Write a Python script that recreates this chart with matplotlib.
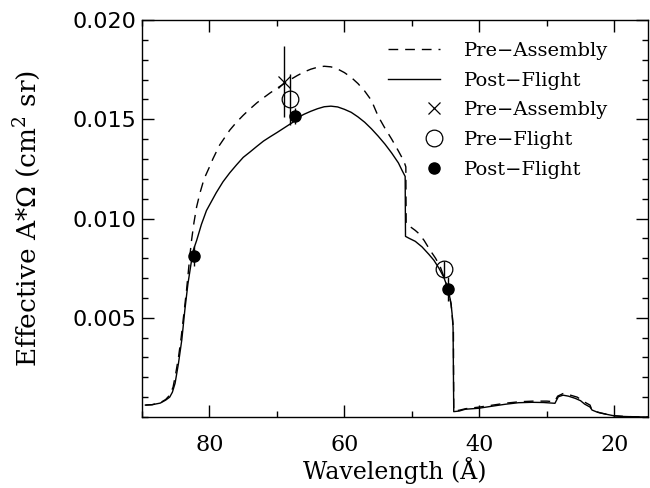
import matplotlib
matplotlib.use('Agg')
import matplotlib.pyplot as plt
from matplotlib.ticker import MultipleLocator, FixedLocator, FormatStrFormatter
from matplotlib.legend_handler import HandlerLine2D

plt.rcParams['font.family'] = 'DejaVu Serif'
plt.rcParams['mathtext.fontset'] = 'dejavuserif'

# effective area * solid angle curves, wavelength in Angstrom
pre_wl = [89.5, 88.5, 87.3, 86.5, 85.9, 85.4, 85.0, 84.6, 84.2, 83.8, 83.4, 83.0,
          82.7, 82.3, 81.9, 81.4, 80.8, 80.0, 79.5, 78.5, 77.5, 77.0, 76.0, 75.0,
          74.0, 73.0, 72.0, 71.0, 70.0, 69.0, 68.0, 67.0, 66.0, 65.0, 64.0, 63.0,
          62.0, 61.0, 60.0, 59.0, 58.0, 57.0, 56.0, 55.0, 54.0, 53.0, 52.0, 51.2,
          50.9, 50.85, 50.3, 49.5, 49.0, 48.2, 47.3, 46.5, 45.8, 45.3, 44.8, 44.5,
          44.2, 44.05, 43.85, 43.8, 43.0, 42.0, 40.0, 38.0, 36.0, 34.0, 32.0, 30.0,
          29.3, 28.8, 28.4, 27.6, 26.5, 25.5, 24.4, 23.6, 23.3, 22.0, 20.0, 18.0,
          15.0]
pre_eff = [0.00060, 0.00062, 0.00072, 0.00088, 0.00110, 0.00150, 0.00220, 0.00300,
           0.00400, 0.00520, 0.00640, 0.00780, 0.00880, 0.00980, 0.01060, 0.01130,
           0.01200, 0.01260, 0.01300, 0.01370, 0.01420, 0.01445, 0.01485, 0.01520,
           0.01552, 0.01582, 0.01608, 0.01633, 0.01656, 0.01678, 0.01700, 0.01720,
           0.01738, 0.01752, 0.01762, 0.01767, 0.01764, 0.01753, 0.01735, 0.01711,
           0.01680, 0.01642, 0.01595, 0.01515, 0.01455, 0.01400, 0.01340, 0.01290,
           0.01260, 0.00970, 0.00960, 0.00940, 0.00925, 0.00890, 0.00840, 0.00800,
           0.00757, 0.00710, 0.00660, 0.00620, 0.00570, 0.00520, 0.00450, 0.00030,
           0.00034, 0.00042, 0.00050, 0.00060, 0.00070, 0.00077, 0.00080, 0.00080,
           0.00078, 0.00080, 0.00105, 0.00118, 0.00110, 0.00100, 0.00075, 0.00060,
           0.00033, 0.00020, 0.00006, 0.00002, 0.00000]

post_wl = [89.5, 88.5, 87.3, 86.5, 85.9, 85.5, 85.1, 84.6, 84.1, 83.65, 83.2, 82.7,
           82.4, 81.9, 81.2, 80.45, 80.0, 79.0, 78.0, 77.0, 76.0, 75.0, 74.0, 73.0,
           72.0, 71.0, 70.0, 69.0, 68.0, 67.4, 66.7, 66.0, 65.0, 64.0, 63.0, 62.0,
           61.0, 60.0, 59.0, 58.0, 57.0, 56.0, 55.0, 54.0, 53.0, 52.0, 51.5, 51.0,
           50.95, 50.4, 49.5, 48.5, 47.5, 46.75, 46.0, 45.3, 44.8, 44.5, 44.2, 44.05,
           43.9, 43.8, 43.0, 42.1, 40.1, 38.0, 36.2, 34.2, 32.2, 30.5, 28.8, 28.3,
           27.6, 26.8, 25.8, 25.0, 24.4, 23.6, 23.3, 22.5, 21.5, 20.2, 19.0, 17.0,
           15.0]
post_eff = [0.00060, 0.00062, 0.00070, 0.00085, 0.00100, 0.00125, 0.00170, 0.00270,
            0.00390, 0.00540, 0.00670, 0.00780, 0.00840, 0.00890, 0.00970, 0.01040,
            0.01068, 0.01130, 0.01185, 0.01230, 0.01270, 0.01308, 0.01335, 0.01363,
            0.01390, 0.01412, 0.01433, 0.01455, 0.01477, 0.01490, 0.01512, 0.01525,
            0.01540, 0.01553, 0.01563, 0.01566, 0.01562, 0.01550, 0.01535, 0.01512,
            0.01485, 0.01452, 0.01415, 0.01375, 0.01330, 0.01280, 0.01245, 0.01212,
            0.00910, 0.00900, 0.00885, 0.00857, 0.00820, 0.00790, 0.00750, 0.00706,
            0.00660, 0.00623, 0.00570, 0.00522, 0.00450, 0.00027, 0.00030, 0.00039,
            0.00044, 0.00055, 0.00064, 0.00072, 0.00074, 0.00073, 0.00069, 0.00102,
            0.00110, 0.00105, 0.00094, 0.00082, 0.00065, 0.00050, 0.00035, 0.00024,
            0.00016, 0.00007, 0.00003, 0.00001, 0.00000]

# calibration measurements
pa_wl, pa_eff, pa_err = [68.9], [0.0169], [0.0018]
pf_wl, pf_eff, pf_err = [68.05, 45.3], [0.0160, 0.00744], [0.0013, 0.0004]
fl_wl, fl_eff, fl_err = [82.3, 67.4, 44.7], [0.0081, 0.01517, 0.00646], [0.0005, 0.0004, 0.0006]

fig = plt.figure(figsize=(6.5, 4.88), dpi=100)
ax = fig.add_axes([0.2185, 0.1455, 0.7785, 0.8135])

l_pre, = ax.plot(pre_wl, pre_eff, 'k', lw=1.0, dashes=(7, 5), label='Pre\u2212Assembly')
l_post, = ax.plot(post_wl, post_eff, 'k-', lw=1.0, label='Post\u2212Flight')

ax.errorbar(pa_wl, pa_eff, yerr=pa_err, fmt='none', ecolor='k', elinewidth=1.0, capsize=0)
ax.errorbar(pf_wl, pf_eff, yerr=pf_err, fmt='none', ecolor='k', elinewidth=1.0, capsize=0)
ax.errorbar(fl_wl, fl_eff, yerr=fl_err, fmt='none', ecolor='k', elinewidth=1.0, capsize=0)

m_pa, = ax.plot(pa_wl, pa_eff, 'kx', ms=9, mew=0.9, ls='none', label='Pre\u2212Assembly')
m_pf, = ax.plot(pf_wl, pf_eff, 'o', ms=12, mfc='none', mec='k', mew=0.9, ls='none',
                label='Pre\u2212Flight')
m_fl, = ax.plot(fl_wl, fl_eff, 'ko', ms=8, ls='none', label='Post\u2212Flight')

ax.set_xlim(90, 15)
ax.set_ylim(0, 0.020)

ax.xaxis.set_major_locator(MultipleLocator(20))
ax.xaxis.set_minor_locator(MultipleLocator(10))
ax.yaxis.set_major_locator(FixedLocator([0.005, 0.010, 0.015, 0.020]))
ax.yaxis.set_minor_locator(MultipleLocator(0.001))
ax.yaxis.set_major_formatter(FormatStrFormatter('%.3f'))
ax.tick_params(which='both', direction='in', top=True, right=True, width=1.0)
ax.tick_params(which='major', length=8.5)
ax.tick_params(which='minor', length=4.5)
ax.tick_params(axis='x', which='major', pad=12, labelsize=16)
ax.tick_params(axis='y', which='major', pad=4, labelsize=16)
for lab in ax.get_yticklabels():
    lab.set_fontfamily('DejaVu Sans')
for sp in ax.spines.values():
    sp.set_linewidth(1.0)

ax.set_xlabel('Wavelength (\u00c5)', fontsize=17, labelpad=1)
ax.set_ylabel('Effective A*\u03a9 (cm$^2$ sr)', fontsize=19, labelpad=21)


class MarkerRight(HandlerLine2D):
    # put the symbol near the right end of the handle, under the line samples
    def create_artists(self, legend, orig_handle, xdescent, ydescent, width, height,
                       fontsize, trans):
        arts = super().create_artists(legend, orig_handle, xdescent, ydescent, width,
                                      height, fontsize, trans)
        for a in arts:
            yd = a.get_ydata()
            a.set_markevery(None)
            a.set_data([0.87 * width - xdescent], [yd[0]])
        return arts


ax.legend([l_pre, l_post, m_pa, m_pf, m_fl],
          [h.get_label() for h in [l_pre, l_post, m_pa, m_pf, m_fl]],
          handler_map={m_pa: MarkerRight(), m_pf: MarkerRight(), m_fl: MarkerRight()},
          loc='upper left', bbox_to_anchor=(0.486, 0.945), frameon=False,
          fontsize=14, handlelength=2.7, handletextpad=1.2, labelspacing=0.6,
          borderpad=0, borderaxespad=0)

fig.savefig('out.png', dpi=100)
